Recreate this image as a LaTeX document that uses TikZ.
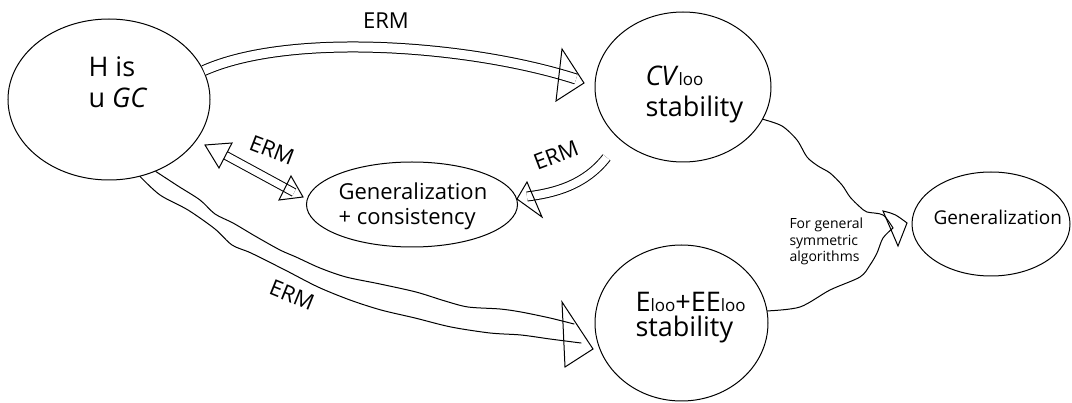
\documentclass[tikz,border=0pt]{standalone}
\usepackage{fontspec}
\setmainfont{Open Sans}
\usetikzlibrary{shapes.geometric}
\newcommand\loosub{{\fontsize{17pt}{17pt}\selectfont loo}}
\begin{document}
\begin{tikzpicture}[x=1pt, y=-1pt, line width=1pt,
  bubble/.style={draw, ellipse, inner sep=0pt},
  dbl/.style={double=white, line cap=butt},
  head/.style={line join=miter},
  wig/.style={line join=round, line cap=round},
  bigtext/.style={font=\fontsize{27pt}{30pt}\selectfont, anchor=base west, inner sep=0pt},
  midtext/.style={font=\fontsize{22pt}{25pt}\selectfont, anchor=base west, inner sep=0pt},
  smalltext/.style={font=\fontsize{14pt}{16pt}\selectfont, anchor=base west, inner sep=0pt},
  erm/.style={font=\fontsize{22pt}{22pt}\selectfont, inner sep=0pt}]
\useasboundingbox (0,0) rectangle (1072,403);

% ---- the five statements ----
\node[bubble, minimum width=202pt, minimum height=161pt] (H)   at (109,99.5) {};
\node[bubble, minimum width=176pt, minimum height=150pt] (CV)  at (683,87)   {};
\node[bubble, minimum width=211pt, minimum height=85pt]  (GC)  at (412,204.5){};
\node[bubble, minimum width=173pt, minimum height=156pt] (EE)  at (681.5,323){};
\node[bubble, minimum width=158pt, minimum height=104pt] (GEN) at (991,224)  {};

\node[bigtext] (h1) at (88,77)  {H is};
\node[bigtext] (h2) at (88,108) {u \textit{GC}};
\node[bigtext] (c1) at (645,86)  {\textit{CV}\loosub};
\node[bigtext] (c2) at (645,117) {stability};
\node[midtext] (g1) at (338,200) {Generalization};
\node[midtext] (g2) at (338,225) {+ consistency};
\node[bigtext] (e1) at (635,312) {E\loosub+EE\loosub};
\node[bigtext] (e2) at (635,337) {stability};
\node[font=\fontsize{19pt}{19pt}\selectfont, anchor=base west, inner sep=0pt] (gn) at (933,225) {Generalization};

% ---- H to CV (ERM) ----
\draw[dbl, double distance=9pt] (H.17) .. controls (290,32) and (470,45) .. (576,79);
\draw[head] (562,49) -- (584,83) -- (556,101) -- cycle;
\node[erm] (l1) at (386,21) {ERM};

% ---- H <-> generalization + consistency (ERM) ----
\draw[dbl, double distance=7pt] ([shift={(29,15)}]H.-25) -- ([shift={(-12,-12)}]GC.west);
\draw[head] (205,145) -- (232,143) -- (219,168) -- cycle;
\draw[head] (303,197) -- (291,176) -- (279,200) -- cycle;
\node[erm, rotate=-21] (l2) at (272,150) {ERM};

% ---- CV to generalization + consistency (ERM) ----
\draw[dbl, double distance=8pt] ([shift={(-19,13)}]CV.-135) .. controls (585,185) and (555,193) .. ([shift={(9,-8)}]GC.east);
\draw[head] (527,182) -- (517,199) -- (542,217) -- cycle;
\node[erm, rotate=21] (l3) at (556,155) {ERM};

% ---- H to Eloo+EEloo (ERM), drawn freehand ----
\draw[wig] plot[smooth, tension=0.5] coordinates {(H.-57) (178,186) (200,200) (215,214) (233,223) (255,236) (280,250) (296,257) (320,268) (346,277) (380,284) (416,292) (445,301) (468,307) (500,309) (521,312) (550,318) (574,324)};
\draw[wig] plot[smooth, tension=0.5] coordinates {(H.-68) (160,195) (188,210) (215,229) (232,245) (251,253) (285,270) (318,287) (350,300) (381,310) (415,318) (451,327) (490,333) (521,335) (550,339) (581,343)};
\draw[head] (562,302) -- (593,349) -- (565,367) -- cycle;
\node[erm, rotate=-22] (l4) at (292,295) {ERM};

% ---- CV and Eloo+EEloo to generalization ----
\coordinate (m) at (893,228);
\draw[wig] plot[smooth, tension=0.5] coordinates {(CV.-22) (782,126) (797,140) (807,157) (818,166) (830,173) (842,185) (850,197) (860,207) (867,212) (883,215) (m)};
\draw[wig] plot[smooth, tension=0.5] coordinates {(EE.8) (800,307) (830,290) (860,277) (870,265) (877,253) (883,238) (m)};
\draw[head] (883,211) .. controls (895,214) .. (907,223) -- (898,246) -- cycle;
\node[smalltext] (s1) at (789,229) {For general};
\node[smalltext] (s2) at (789,246) {symmetric};
\node[smalltext] (s3) at (789,262) {algorithms};
\end{tikzpicture}
\end{document}
